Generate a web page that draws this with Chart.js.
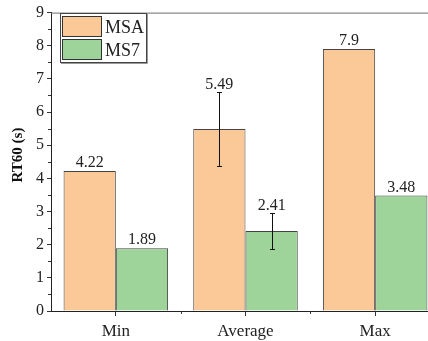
<!DOCTYPE html>
<html>
<head>
<meta charset="utf-8">
<script src="https://cdn.jsdelivr.net/npm/chart.js@4/dist/chart.umd.min.js"></script>
<style>
html,body{margin:0;padding:0;overflow:hidden;background:#fff;}
canvas{display:block;}
</style>
</head>
<body>
<canvas id="c" width="440" height="341" style="width:440px;height:341px"></canvas>
<script>
const categories = ['Min', 'Average', 'Max'];
const seriesNames = ['MSA', 'MS7'];
const msaValues = [4.22, 5.49, 7.9];
const ms7Values = [1.89, 2.41, 3.48];
const msaErrors = [0, 1.13, 0];
const ms7Errors = [0, 0.55, 0];
const yTicks = [0, 1, 2, 3, 4, 5, 6, 7, 8, 9];
const yTitle = 'RT60 (s)';

const FONT = '"Liberation Serif", "Times New Roman", serif';
const colors = ['#FBC997', '#9ED39A'];
const errs = [msaErrors, ms7Errors];

const overlay = {
  id: 'overlay',
  afterDatasetsDraw(chart) {
    const ctx = chart.ctx;
    const ca = chart.chartArea;
    const y = chart.scales.y, x = chart.scales.x;
    ctx.save();
    ctx.strokeStyle = '#6e6e6e';
    ctx.lineWidth = 1;
    ctx.beginPath();
    ctx.moveTo(ca.left, ca.top + 0.5);
    ctx.lineTo(ca.right, ca.top + 0.5);
    ctx.stroke();
    ctx.strokeStyle = '#333';
    for (let i = 0; i < yTicks.length - 1; i++) {
      const py = Math.round(y.getPixelForValue((yTicks[i] + yTicks[i + 1]) / 2)) + 0.5;
      ctx.beginPath();
      ctx.moveTo(ca.left - 3, py);
      ctx.lineTo(ca.left, py);
      ctx.stroke();
    }
    for (let i = 0; i < categories.length - 1; i++) {
      const px = Math.round((x.getPixelForValue(i) + x.getPixelForValue(i + 1)) / 2) + 0.5;
      ctx.beginPath();
      ctx.moveTo(px, ca.bottom);
      ctx.lineTo(px, ca.bottom + 3);
      ctx.stroke();
    }
    chart.data.datasets.forEach((ds, di) => {
      const meta = chart.getDatasetMeta(di);
      meta.data.forEach((bar, i) => {
        const v = ds.data[i];
        const e = errs[di][i];
        const cx = Math.round(bar.x) + 0.5;
        let topPx = y.getPixelForValue(v);
        if (e > 0) {
          const t = Math.round(y.getPixelForValue(v + e)) + 0.5;
          const b = Math.round(y.getPixelForValue(v - e)) + 0.5;
          ctx.strokeStyle = '#111';
          ctx.lineWidth = 1;
          ctx.beginPath();
          ctx.moveTo(cx, t); ctx.lineTo(cx, b);
          ctx.moveTo(cx - 2.5, t); ctx.lineTo(cx + 2.5, t);
          ctx.moveTo(cx - 2.5, b); ctx.lineTo(cx + 2.5, b);
          ctx.stroke();
          topPx = t;
        }
        ctx.fillStyle = '#222';
        ctx.font = '16px ' + FONT;
        ctx.textAlign = 'center';
        ctx.textBaseline = 'alphabetic';
        ctx.fillText(String(v), bar.x, topPx - 4);
      });
    });
    ctx.fillStyle = '#fff';
    ctx.fillRect(60, 13, 86, 49);
    ctx.strokeStyle = '#444';
    ctx.lineWidth = 1;
    ctx.strokeRect(60.5, 13.5, 86, 49);
    ctx.strokeStyle = '#999';
    ctx.beginPath();
    ctx.moveTo(61, 63.5); ctx.lineTo(147.5, 63.5); ctx.lineTo(147.5, 14);
    ctx.stroke();
    seriesNames.forEach((n, i) => {
      const sy = 16 + i * 23;
      ctx.fillStyle = colors[i];
      ctx.fillRect(62, sy, 39, 21);
      ctx.strokeStyle = '#333';
      ctx.strokeRect(62.5, sy + 0.5, 39, 20);
      ctx.fillStyle = '#222';
      ctx.font = '18px ' + FONT;
      ctx.textAlign = 'left';
      ctx.textBaseline = 'alphabetic';
      ctx.fillText(n, 105, sy + 17);
    });
    ctx.save();
    ctx.translate(22, 155);
    ctx.rotate(-Math.PI / 2);
    ctx.fillStyle = '#111';
    ctx.font = 'bold 15px ' + FONT;
    ctx.textAlign = 'center';
    ctx.textBaseline = 'alphabetic';
    ctx.fillText(yTitle, 0, 0);
    ctx.restore();
    ctx.restore();
  }
};

new Chart(document.getElementById('c'), {
  type: 'bar',
  data: {
    labels: categories,
    datasets: [
      { label: seriesNames[0], data: msaValues, backgroundColor: colors[0], borderColor: '#444', borderWidth: 1, borderSkipped: 'bottom' },
      { label: seriesNames[1], data: ms7Values, backgroundColor: colors[1], borderColor: '#444', borderWidth: 1, borderSkipped: 'bottom' }
    ]
  },
  options: {
    responsive: false,
    devicePixelRatio: 1,
    animation: false,
    layout: { padding: { top: 10, left: 0, right: 0, bottom: 0 } },
    plugins: { legend: { display: false }, tooltip: { enabled: false } },
    datasets: { bar: { barPercentage: 1, categoryPercentage: 0.806 } },
    scales: {
      x: {
        grid: { offset: false, drawOnChartArea: false, drawTicks: true, tickLength: 5, color: '#333' },
        border: { color: '#222', width: 1 },
        ticks: { font: { family: FONT, size: 17 }, color: '#222', padding: 5 },
        afterFit(s) { s.height = 30; }
      },
      y: {
        min: 0, max: 9,
        afterBuildTicks(s) { s.ticks = yTicks.map(v => ({ value: v })); },
        grid: { drawOnChartArea: false, drawTicks: true, tickLength: 4, color: '#333' },
        border: { color: '#222', width: 1 },
        ticks: { font: { family: FONT, size: 16 }, color: '#222', padding: 3 },
        afterFit(s) { s.width = 51; }
      }
    }
  },
  plugins: [overlay]
});
</script>
</body>
</html>
